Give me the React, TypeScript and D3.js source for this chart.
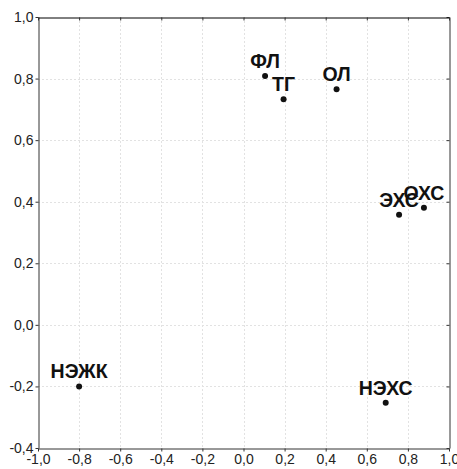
import React, { useEffect, useRef } from "react";
import * as d3 from "d3";

const labels = ["ФЛ", "ТГ", "ОЛ", "ЭХС", "ОХС", "НЭЖК", "НЭХС"];
const xValues = [0.105, 0.195, 0.453, 0.757, 0.878, -0.8, 0.692];
const yValues = [0.808, 0.733, 0.765, 0.358, 0.38, -0.2, -0.253];
const xTicks = [-1.0, -0.8, -0.6, -0.4, -0.2, 0.0, 0.2, 0.4, 0.6, 0.8, 1.0];
const yTicks = [-0.4, -0.2, 0.0, 0.2, 0.4, 0.6, 0.8, 1.0];

const fmt = (d: number) => d.toFixed(1).replace(".", ",");

export default function App() {
  const svgRef = useRef<SVGSVGElement>(null);

  useEffect(() => {
    if (!svgRef.current) return;
    const width = 457;
    const height = 469;
    const margin = { top: 17, right: 8, bottom: 21, left: 38 };

    const svg = d3.select(svgRef.current);
    svg.selectAll("*").remove();

    const x = d3.scaleLinear().domain([-1, 1]).range([margin.left, width - margin.right]);
    const y = d3.scaleLinear().domain([-0.4, 1]).range([height - margin.bottom, margin.top]);

    // grid
    const grid = svg.append("g").attr("stroke", "#e2e2e2").attr("stroke-dasharray", "2,2").attr("stroke-width", 1);
    xTicks.slice(1, -1).forEach(t => {
      grid.append("line")
        .attr("x1", Math.round(x(t)) + 0.5).attr("x2", Math.round(x(t)) + 0.5)
        .attr("y1", y(1)).attr("y2", y(-0.4));
    });
    yTicks.slice(1, -1).forEach(t => {
      grid.append("line")
        .attr("y1", Math.round(y(t)) + 0.5).attr("y2", Math.round(y(t)) + 0.5)
        .attr("x1", x(-1)).attr("x2", x(1));
    });

    // axes
    const font = "'Liberation Sans', Arial, sans-serif";
    const bottom = svg.append("g")
      .attr("transform", `translate(0, ${Math.round(y(-0.4)) + 0.5})`)
      .call(d3.axisBottom(x).tickValues(xTicks).tickSize(3).tickSizeOuter(0).tickFormat(d => fmt(+d)));
    const left = svg.append("g")
      .attr("transform", `translate(${Math.round(x(-1)) + 0.5}, 0)`)
      .call(d3.axisLeft(y).tickValues(yTicks).tickSize(3).tickSizeOuter(0).tickFormat(d => fmt(+d)));
    const right = svg.append("g")
      .attr("transform", `translate(${Math.round(x(1)) + 0.5}, 0)`)
      .call(d3.axisRight(y).tickValues(yTicks).tickSize(-3).tickSizeOuter(0).tickFormat(() => ""));
    const top = svg.append("g")
      .attr("transform", `translate(0, ${Math.round(y(1)) + 0.5})`)
      .call(d3.axisTop(x).tickValues(xTicks).tickSize(-3).tickSizeOuter(0).tickFormat(() => ""));

    [bottom, left, right, top].forEach(g => {
      g.selectAll("path, line").attr("stroke", "#333").attr("stroke-width", 1);
      g.selectAll("text").attr("font-family", font).attr("font-size", 14).attr("fill", "#222");
    });
    top.select("path").attr("stroke", "#000");
    bottom.selectAll("text").attr("dy", "0.8em").attr("y", 4);
    left.selectAll("text").attr("x", -5);

    // points
    const pts = labels.map((l, i) => ({ label: l, x: xValues[i], y: yValues[i] }));
    svg.append("g")
      .selectAll("circle")
      .data(pts)
      .join("circle")
      .attr("cx", d => x(d.x))
      .attr("cy", d => y(d.y))
      .attr("r", 3)
      .attr("fill", "#111");

    svg.append("g")
      .selectAll("text")
      .data(pts)
      .join("text")
      .attr("x", d => x(d.x))
      .attr("y", d => y(d.y) - 8)
      .attr("text-anchor", "middle")
      .attr("font-family", font)
      .attr("font-weight", "bold")
      .attr("font-size", 19.5)
      .attr("fill", "#111")
      .text(d => d.label);
  }, []);

  return (
    <div style={{ position: "absolute", left: 0, top: 0, width: 457, height: 469, background: "#fff" }}>
      <svg ref={svgRef} width={457} height={469} style={{ display: "block", overflow: "visible" }} />
    </div>
  );
}
